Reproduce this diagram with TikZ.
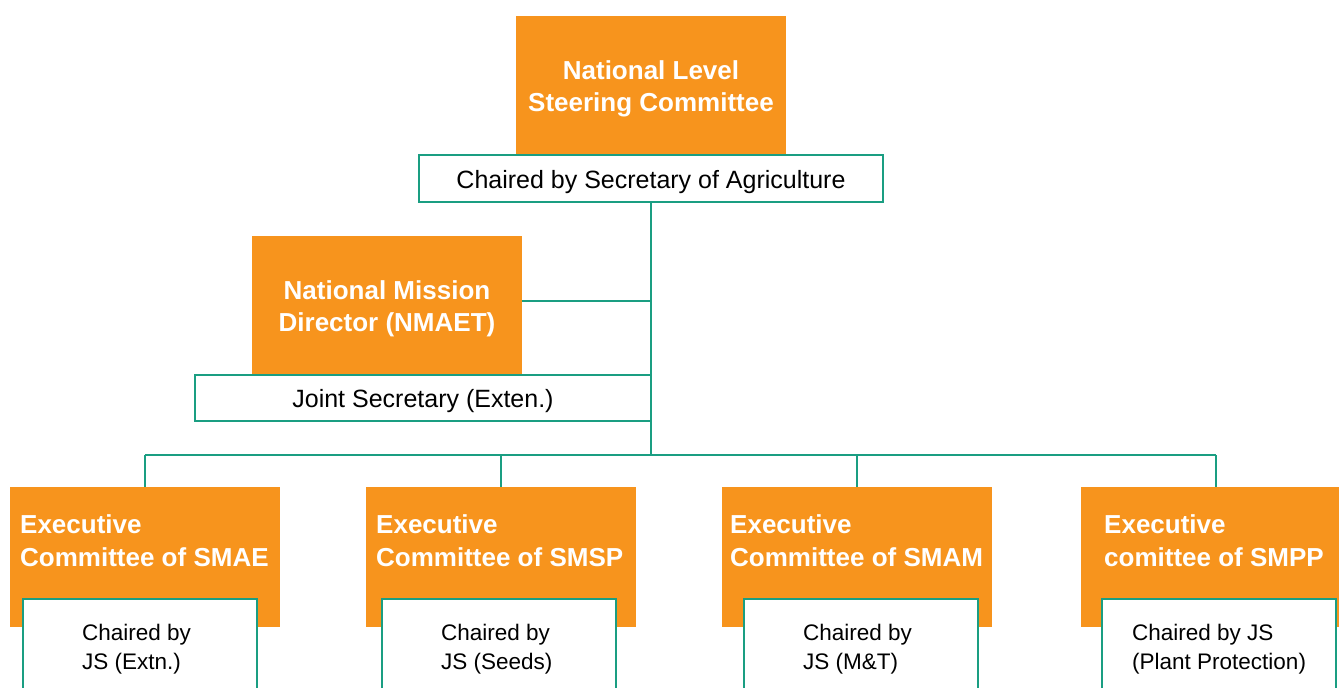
\documentclass[tikz,border=0pt]{standalone}
\usepackage{fontspec}
\setmainfont{Liberation Sans}
\definecolor{orng}{HTML}{F7941D}
\definecolor{lineteal}{HTML}{1A9E82}
\begin{document}
\begin{tikzpicture}[x=1pt,y=-1pt,
  orangebox/.style={rectangle, fill=orng, draw=none, minimum width=270pt, inner sep=0pt},
  whitebox/.style={rectangle, fill=white, draw=lineteal, line width=1.6pt, inner sep=0pt},
  conn/.style={draw=lineteal, line width=2pt},
  titletxt/.style={text=white, font=\fontsize{26}{31.5}\selectfont\bfseries, inner sep=0pt, align=center},
  exectxt/.style={text=white, font=\fontsize{26}{33}\selectfont\bfseries, inner sep=0pt, align=left, anchor=west},
  toptxt/.style={font=\fontsize{25}{30}\selectfont, text height=19.5pt, text depth=0pt},
  chairtxt/.style={font=\fontsize{22.5}{29}\selectfont, inner sep=0pt, align=left, anchor=west}]
\useasboundingbox (0,0) rectangle (1339,688);
\clip (0,0) rectangle (1339,688);
\fill[white] (0,0) rectangle (1339,688);

% coordinates for connectors
\coordinate (bus) at (651,455);

% top level
\node[orangebox, minimum height=144pt] (nlsc) at (651,88) {};
\node[titletxt] (nlsct) at (651,89) {National Level\\Steering Committee};
\node[whitebox, toptxt, minimum width=464pt, minimum height=47pt] (nlscc) at (651,178.5) {Chaired by Secretary of Agriculture};

% mission director
\node[orangebox, minimum height=140pt] (nmd) at (387,306) {};
\node[titletxt] (nmdt) at (387,309) {National Mission\\Director (NMAET)};

% connectors
\draw[conn] (nlscc.south) -- (bus);
\draw[conn] ([yshift=5pt]nmd.east) -- ([yshift=5pt]nmd.east -| bus);

\node[whitebox, toptxt, minimum width=456pt, minimum height=46pt] (js) at (423,398) {Joint Secretary (Exten.)};

% executive committees
\node[orangebox, minimum height=140pt] (ec1) at (145,557) {};
\node[orangebox, minimum height=140pt] (ec2) at (501,557) {};
\node[orangebox, minimum height=140pt] (ec3) at (857,557) {};
\node[orangebox, minimum height=140pt] (ec4) at (1216,557) {};

\draw[conn] (ec1.north |- bus) -- (ec4.north |- bus);
\draw[conn] (ec1.north |- bus) -- (ec1.north);
\draw[conn] (ec2.north |- bus) -- (ec2.north);
\draw[conn] (ec3.north |- bus) -- (ec3.north);
\draw[conn] (ec4.north |- bus) -- (ec4.north);

\node[exectxt] (ec1t) at (20,540.5) {Executive\\Committee of SMAE};
\node[exectxt] (ec2t) at (376,540.5) {Executive\\Committee of SMSP};
\node[exectxt] (ec3t) at (730,540.5) {Executive\\Committee of SMAM};
\node[exectxt] (ec4t) at (1104,540.5) {Executive\\comittee of SMPP};

\node[whitebox, anchor=north west, minimum width=234pt, minimum height=110pt] (c1) at (22,598) {};
\node[whitebox, anchor=north west, minimum width=234pt, minimum height=110pt] (c2) at (381,598) {};
\node[whitebox, anchor=north west, minimum width=234pt, minimum height=110pt] (c3) at (743,598) {};
\node[whitebox, anchor=north west, minimum width=234pt, minimum height=110pt] (c4) at (1101,598) {};

\node[chairtxt] (c1t) at (82,649.5) {Chaired by\\JS (Extn.)};
\node[chairtxt] (c2t) at (441,649.5) {Chaired by\\JS (Seeds)};
\node[chairtxt] (c3t) at (803,649.5) {Chaired by\\JS (M\&T)};
\node[chairtxt] (c4t) at (1132,649.5) {Chaired by JS\\(Plant Protection)};
\end{tikzpicture}
\end{document}
